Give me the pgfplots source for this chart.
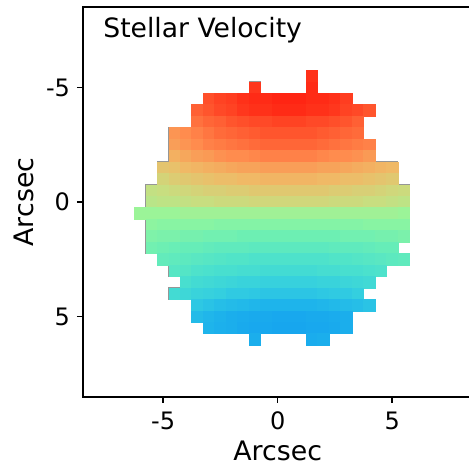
\documentclass[border=0pt]{standalone}
\usepackage{fontspec}
\setmainfont{DejaVu Sans}
\usepackage{pgfplots}
\pgfplotsset{compat=1.18}
\begin{document}
\begin{tikzpicture}
\begin{axis}[
  x=11.45pt, y=11.45pt, y dir=reverse,
  xmin=-8.5, xmax=8.5, ymin=-8.5, ymax=8.5,
  xtick={-5,0,5}, ytick={-5,0,5},
  tick pos=left, tick align=outside, major tick length=3pt,
  tick style={black, line width=0.8pt},
  axis line style={line width=0.9pt},
  /pgf/number format/assume math mode=true,
  tick label style={font=\fontsize{12}{14}\selectfont},
  xticklabel style={yshift=-1pt},
  label style={font=\fontsize{13.4}{16}\selectfont},
  xlabel={Arcsec}, ylabel={Arcsec},
  xlabel style={at={(axis description cs:0.5,-0.163)}, anchor=base, inner sep=0pt},
  ylabel style={at={(axis description cs:-0.1284,0.5)}, anchor=base, inner sep=0pt},
  colormap={vel}{rgb255=(20,160,240) rgb255=(30,180,235) rgb255=(50,205,225) rgb255=(75,225,205) rgb255=(105,238,182) rgb255=(150,246,155) rgb255=(200,222,128) rgb255=(240,185,102) rgb255=(255,140,78) rgb255=(255,85,45) rgb255=(255,25,12)},
  point meta min=0, point meta max=100,
]
\addplot[scatter, only marks, mark=square*, mark size=2.8625pt, point meta=explicit,
  mark options={line width=0.3pt},
  scatter/use mapped color={draw=mapped color, fill=mapped color}] coordinates {
(1.5,-5.5)[96]
(-1,-5)[95] (1.5,-5)[97]
(-3,-4.5)[91] (-2.5,-4.5)[93] (-2,-4.5)[94] (-1.5,-4.5)[96] (-1,-4.5)[97] (-0.5,-4.5)[97] (0,-4.5)[98] (0.5,-4.5)[98] (1,-4.5)[98] (1.5,-4.5)[97] (2,-4.5)[97] (2.5,-4.5)[96] (3,-4.5)[94]
(-3.5,-4)[88] (-3,-4)[90] (-2.5,-4)[92] (-2,-4)[93] (-1.5,-4)[95] (-1,-4)[96] (-0.5,-4)[96] (0,-4)[97] (0.5,-4)[97] (1,-4)[97] (1.5,-4)[96] (2,-4)[96] (2.5,-4)[95] (3,-4)[93] (3.5,-4)[92] (4,-4)[90]
(-3.5,-3.5)[85] (-3,-3.5)[87] (-2.5,-3.5)[88] (-2,-3.5)[90] (-1.5,-3.5)[91] (-1,-3.5)[92] (-0.5,-3.5)[92] (0,-3.5)[93] (0.5,-3.5)[93] (1,-3.5)[93] (1.5,-3.5)[92] (2,-3.5)[92] (2.5,-3.5)[91] (3,-3.5)[90] (3.5,-3.5)[88]
(-4.5,-3)[78] (-4,-3)[80] (-3.5,-3)[82] (-3,-3)[84] (-2.5,-3)[86] (-2,-3)[87] (-1.5,-3)[88] (-1,-3)[89] (-0.5,-3)[90] (0,-3)[90] (0.5,-3)[90] (1,-3)[90] (1.5,-3)[90] (2,-3)[89] (2.5,-3)[88] (3,-3)[87] (3.5,-3)[86]
(-4.5,-2.5)[76] (-4,-2.5)[78] (-3.5,-2.5)[80] (-3,-2.5)[82] (-2.5,-2.5)[83] (-2,-2.5)[84] (-1.5,-2.5)[85] (-1,-2.5)[86] (-0.5,-2.5)[87] (0,-2.5)[87] (0.5,-2.5)[87] (1,-2.5)[87] (1.5,-2.5)[87] (2,-2.5)[86] (2.5,-2.5)[85] (3,-2.5)[84] (3.5,-2.5)[83] (4,-2.5)[82]
(-4.5,-2)[72] (-4,-2)[74] (-3.5,-2)[76] (-3,-2)[77] (-2.5,-2)[79] (-2,-2)[80] (-1.5,-2)[80] (-1,-2)[81] (-0.5,-2)[82] (0,-2)[82] (0.5,-2)[82] (1,-2)[82] (1.5,-2)[82] (2,-2)[81] (2.5,-2)[80] (3,-2)[80] (3.5,-2)[79] (4,-2)[77]
(-5,-1.5)[67] (-4.5,-1.5)[68] (-4,-1.5)[70] (-3.5,-1.5)[71] (-3,-1.5)[72] (-2.5,-1.5)[73] (-2,-1.5)[74] (-1.5,-1.5)[75] (-1,-1.5)[75] (-0.5,-1.5)[76] (0,-1.5)[76] (0.5,-1.5)[76] (1,-1.5)[76] (1.5,-1.5)[76] (2,-1.5)[75] (2.5,-1.5)[75] (3,-1.5)[74] (3.5,-1.5)[73] (4,-1.5)[72] (4.5,-1.5)[71] (5,-1.5)[70]
(-5,-1)[63] (-4.5,-1)[65] (-4,-1)[66] (-3.5,-1)[67] (-3,-1)[68] (-2.5,-1)[69] (-2,-1)[69] (-1.5,-1)[70] (-1,-1)[70] (-0.5,-1)[71] (0,-1)[71] (0.5,-1)[71] (1,-1)[71] (1.5,-1)[71] (2,-1)[70] (2.5,-1)[70] (3,-1)[69] (3.5,-1)[69] (4,-1)[68] (4.5,-1)[67] (5,-1)[66]
(-5.5,-0.5)[59] (-5,-0.5)[60] (-4.5,-0.5)[61] (-4,-0.5)[62] (-3.5,-0.5)[63] (-3,-0.5)[64] (-2.5,-0.5)[64] (-2,-0.5)[65] (-1.5,-0.5)[65] (-1,-0.5)[66] (-0.5,-0.5)[66] (0,-0.5)[66] (0.5,-0.5)[66] (1,-0.5)[66] (1.5,-0.5)[66] (2,-0.5)[66] (2.5,-0.5)[65] (3,-0.5)[65] (3.5,-0.5)[64] (4,-0.5)[64] (4.5,-0.5)[63] (5,-0.5)[62] (5.5,-0.5)[61]
(-5.5,0)[57] (-5,0)[58] (-4.5,0)[58] (-4,0)[59] (-3.5,0)[60] (-3,0)[60] (-2.5,0)[61] (-2,0)[61] (-1.5,0)[61] (-1,0)[62] (-0.5,0)[62] (0,0)[62] (0.5,0)[62] (1,0)[62] (1.5,0)[62] (2,0)[62] (2.5,0)[61] (3,0)[61] (3.5,0)[61] (4,0)[60] (4.5,0)[60] (5,0)[59] (5.5,0)[58]
(-6,0.5)[51] (-5.5,0.5)[51] (-5,0.5)[51] (-4.5,0.5)[51] (-4,0.5)[52] (-3.5,0.5)[52] (-3,0.5)[52] (-2.5,0.5)[52] (-2,0.5)[52] (-1.5,0.5)[52] (-1,0.5)[52] (-0.5,0.5)[52] (0,0.5)[52] (0.5,0.5)[52] (1,0.5)[52] (1.5,0.5)[52] (2,0.5)[52] (2.5,0.5)[52] (3,0.5)[52] (3.5,0.5)[52] (4,0.5)[52] (4.5,0.5)[52] (5,0.5)[52] (5.5,0.5)[51]
(-5.5,1)[48] (-5,1)[47] (-4.5,1)[47] (-4,1)[47] (-3.5,1)[47] (-3,1)[47] (-2.5,1)[46] (-2,1)[46] (-1.5,1)[46] (-1,1)[46] (-0.5,1)[46] (0,1)[46] (0.5,1)[46] (1,1)[46] (1.5,1)[46] (2,1)[46] (2.5,1)[46] (3,1)[46] (3.5,1)[46] (4,1)[47] (4.5,1)[47] (5,1)[47] (5.5,1)[47]
(-5.5,1.5)[45] (-5,1.5)[44] (-4.5,1.5)[44] (-4,1.5)[43] (-3.5,1.5)[43] (-3,1.5)[42] (-2.5,1.5)[42] (-2,1.5)[42] (-1.5,1.5)[41] (-1,1.5)[41] (-0.5,1.5)[41] (0,1.5)[41] (0.5,1.5)[41] (1,1.5)[41] (1.5,1.5)[41] (2,1.5)[41] (2.5,1.5)[41] (3,1.5)[42] (3.5,1.5)[42] (4,1.5)[42] (4.5,1.5)[43] (5,1.5)[43] (5.5,1.5)[44]
(-5.5,2)[42] (-5,2)[41] (-4.5,2)[40] (-4,2)[39] (-3.5,2)[39] (-3,2)[38] (-2.5,2)[37] (-2,2)[37] (-1.5,2)[37] (-1,2)[36] (-0.5,2)[36] (0,2)[36] (0.5,2)[36] (1,2)[36] (1.5,2)[36] (2,2)[36] (2.5,2)[37] (3,2)[37] (3.5,2)[37] (4,2)[38] (4.5,2)[39] (5,2)[39]
(-5,2.5)[38] (-4.5,2.5)[37] (-4,2.5)[36] (-3.5,2.5)[35] (-3,2.5)[34] (-2.5,2.5)[33] (-2,2.5)[32] (-1.5,2.5)[32] (-1,2.5)[31] (-0.5,2.5)[31] (0,2.5)[31] (0.5,2.5)[31] (1,2.5)[31] (1.5,2.5)[31] (2,2.5)[31] (2.5,2.5)[32] (3,2.5)[32] (3.5,2.5)[33] (4,2.5)[34] (4.5,2.5)[35] (5,2.5)[36] (5.5,2.5)[37]
(-4.5,3)[34] (-4,3)[33] (-3.5,3)[31] (-3,3)[30] (-2.5,3)[29] (-2,3)[29] (-1.5,3)[28] (-1,3)[28] (-0.5,3)[27] (0,3)[27] (0.5,3)[27] (1,3)[27] (1.5,3)[27] (2,3)[28] (2.5,3)[28] (3,3)[29] (3.5,3)[29] (4,3)[30] (4.5,3)[31]
(-4,3.5)[29] (-3.5,3.5)[27] (-3,3.5)[26] (-2.5,3.5)[25] (-2,3.5)[24] (-1.5,3.5)[23] (-1,3.5)[23] (-0.5,3.5)[22] (0,3.5)[22] (0.5,3.5)[22] (1,3.5)[22] (1.5,3.5)[22] (2,3.5)[23] (2.5,3.5)[23] (3,3.5)[24] (3.5,3.5)[25] (4,3.5)[26]
(-4.5,4)[27] (-4,4)[25] (-3.5,4)[23] (-3,4)[22] (-2.5,4)[21] (-2,4)[19] (-1.5,4)[19] (-1,4)[18] (-0.5,4)[17] (0,4)[17] (0.5,4)[17] (1,4)[17] (1.5,4)[17] (2,4)[18] (2.5,4)[19] (3,4)[19] (3.5,4)[21]
(-3.5,4.5)[18] (-3,4.5)[16] (-2.5,4.5)[14] (-2,4.5)[13] (-1.5,4.5)[12] (-1,4.5)[11] (-0.5,4.5)[10] (0,4.5)[10] (0.5,4.5)[10] (1,4.5)[10] (1.5,4.5)[10] (2,4.5)[11] (2.5,4.5)[12] (3,4.5)[13] (3.5,4.5)[14] (4,4.5)[16]
(-3.5,5)[13] (-3,5)[11] (-2.5,5)[9] (-2,5)[7] (-1.5,5)[6] (-1,5)[5] (-0.5,5)[5] (0,5)[4] (0.5,5)[4] (1,5)[4] (1.5,5)[5] (2,5)[5] (2.5,5)[6] (3,5)[7]
(-3,5.5)[10] (-2.5,5.5)[8] (-2,5.5)[7] (-1.5,5.5)[5] (-1,5.5)[4] (-0.5,5.5)[4] (0,5.5)[3] (0.5,5.5)[3] (1,5.5)[3] (1.5,5.5)[4] (2,5.5)[4] (2.5,5.5)[5] (3,5.5)[7]
(-1,6)[7] (1.5,6)[6] (2,6)[7]
};
\addplot[color={rgb,255:red,150;green,150;blue,150}, line width=0.5pt, mark=none] coordinates {
(1.25,-5.75) (1.75,-5.75) (1.75,-4.75) (3.25,-4.75) (3.25,-4.25) (4.25,-4.25) (4.25,-3.75) (3.75,-3.75) (3.75,-2.75) (4.25,-2.75) (4.25,-1.75) (5.25,-1.75) (5.25,-0.75) (5.75,-0.75) (5.75,1.75) (5.25,1.75) (5.25,2.25) (5.75,2.25) (5.75,2.75) (4.75,2.75) (4.75,3.25) (4.25,3.25) (4.25,3.75) (3.75,3.75) (3.75,4.25) (4.25,4.25) (4.25,4.75) (3.25,4.75) (3.25,5.75) (2.25,5.75) (2.25,6.25) (1.25,6.25) (1.25,5.75) (-0.75,5.75) (-0.75,6.25) (-1.25,6.25) (-1.25,5.75) (-3.25,5.75) (-3.25,5.25) (-3.75,5.25) (-3.75,4.25) (-4.75,4.25) (-4.75,3.75) (-4.25,3.75) (-4.25,3.25) (-4.75,3.25) (-4.75,2.75) (-5.25,2.75) (-5.25,2.25) (-5.75,2.25) (-5.75,0.75) (-6.25,0.75) (-6.25,0.25) (-5.75,0.25) (-5.75,-0.75) (-5.25,-0.75) (-5.25,-1.75) (-4.75,-1.75) (-4.75,-3.25) (-3.75,-3.25) (-3.75,-4.25) (-3.25,-4.25) (-3.25,-4.75) (-1.25,-4.75) (-1.25,-5.25) (-0.75,-5.25) (-0.75,-4.75) (1.25,-4.75) (1.25,-5.75)
};
\node[anchor=base west, inner sep=0pt, font=\fontsize{13.3}{16}\selectfont] at (axis description cs:0.0514,0.922) {Stellar Velocity};
\end{axis}
\pgfresetboundingbox
\path[use as bounding box] ([shift={(-41.5pt,-34.2pt)}]current axis.south west) rectangle ([shift={(-1.65pt,3.7pt)}]current axis.north east);
\end{tikzpicture}
\end{document}
